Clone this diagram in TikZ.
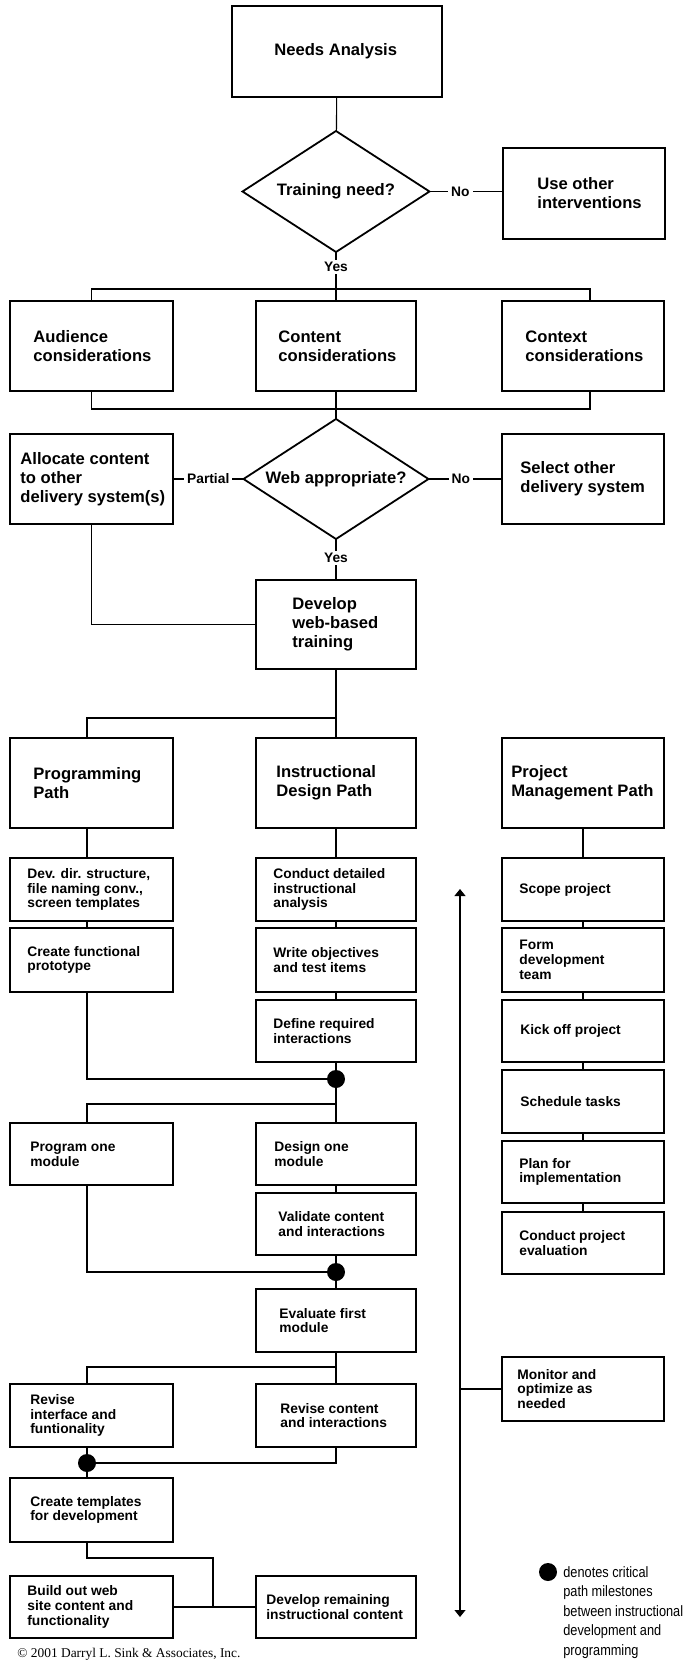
\documentclass[tikz,border=0pt]{standalone}
\usepackage{fontspec}
\setmainfont{Liberation Sans}
\newfontfamily\legfont[FakeStretch=0.85]{Liberation Sans}
\newfontfamily\cpyfont{Liberation Serif}
\usetikzlibrary{shapes.geometric, arrows.meta}
\newcommand\flowbox[8]{%
  \pgfmathsetmacro\fbw{(#4-#2)*0.5}%
  \pgfmathsetmacro\fbh{(#5-#3)*0.5}%
  \pgfmathsetmacro\fbp{(#6-#2)*0.5}%
  \node[box, minimum width=\fbw pt, minimum height=\fbh pt] (#1) at ({(#2+#4)/2},{(#3+#5)/2}) {};%
  \node[#7, anchor=west] (#1-t) at ([xshift=\fbp pt]#1.west) {#8};%
}
\begin{document}
\begin{tikzpicture}[x=0.5pt, y=-0.5pt,
  box/.style={draw, line width=0.9pt, inner sep=0, outer sep=0},
  dia/.style={draw, diamond, line width=0.9pt, inner sep=0, outer sep=0},
  big/.style={font=\fontsize{8.3}{9.5}\selectfont\bfseries, align=left, inner sep=0},
  sml/.style={font=\fontsize{6.9}{7.4}\selectfont\bfseries, align=left, inner sep=0},
  lbl/.style={font=\fontsize{6.9}{8}\selectfont\bfseries, fill=white, inner xsep=1.5pt, inner ysep=1pt},
  conn/.style={line width=0.55pt},
  arrowline/.style={line width=0.55pt, {Triangle[length=3.5pt,width=5.5pt]}-{Triangle[length=3.5pt,width=5.5pt]}},
  dot/.style={circle, fill=black, minimum size=9pt, inner sep=0},
  leg/.style={font=\legfont\fontsize{7.5}{9.75}\selectfont, align=left, inner sep=0},
  cpy/.style={font=\cpyfont\fontsize{6.7}{8}\selectfont, inner sep=0}
]
\path[use as bounding box, fill=white] (0,0) rectangle (682,1662);

% top section
\flowbox{na}{232}{6}{442}{97}{274}{big}{Needs Analysis}
\node[dia, minimum width=93.5pt, minimum height=60.5pt] (d1) at (336,191.5) {};
\node[big] (d1-t) at (d1) {Training need?};
\flowbox{uo}{503}{148}{665}{239}{537}{big}{Use other\\interventions}
\flowbox{aud}{10}{301}{173}{391}{33}{big}{Audience\\considerations}
\flowbox{con}{256}{301}{416}{391}{278}{big}{Content\\considerations}
\flowbox{ctx}{502}{301}{664}{391}{525}{big}{Context\\considerations}
\node[dia, minimum width=92.5pt, minimum height=60pt] (d2) at (336,479) {};
\node[big] (d2-t) at (d2) {Web appropriate?};
\flowbox{al}{10}{434}{173}{524}{20}{big}{Allocate content\\to other\\delivery system(s)}
\flowbox{sel}{502}{434}{664}{524}{520}{big}{Select other\\delivery system}
\flowbox{dev}{256}{580}{416}{669}{292}{big}{Develop\\web-based\\training}
\flowbox{pp}{10}{738}{173}{828}{33}{big}{Programming\\Path}
\flowbox{idp}{256}{738}{416}{828}{276}{big}{Instructional\\Design Path}
\flowbox{pmp}{502}{738}{664}{828}{511}{big}{Project\\Management Path}

% lower section
\flowbox{dd}{10}{858}{173}{921}{27}{sml}{Dev. dir. structure,\\file naming conv.,\\screen templates}
\flowbox{cf}{10}{928}{173}{992}{27}{sml}{Create functional\\prototype}
\flowbox{cd}{256}{858}{416}{921}{273}{sml}{Conduct detailed\\instructional\\analysis}
\flowbox{wo}{256}{928}{416}{992}{273}{sml}{Write objectives\\and test items}
\flowbox{dr}{256}{1000}{416}{1062}{273}{sml}{Define required\\interactions}
\flowbox{sp}{502}{858}{664}{921}{519}{sml}{Scope project}
\flowbox{fd}{502}{928}{664}{992}{519}{sml}{Form\\development\\team}
\flowbox{ko}{502}{1000}{664}{1062}{520}{sml}{Kick off project}
\flowbox{st}{502}{1070}{664}{1133}{520}{sml}{Schedule tasks}
\flowbox{pi}{502}{1141}{664}{1203}{519}{sml}{Plan for\\implementation}
\flowbox{cpe}{502}{1212}{664}{1274}{519}{sml}{Conduct project\\evaluation}
\flowbox{pom}{10}{1123}{173}{1185}{30}{sml}{Program one\\module}
\flowbox{dom}{256}{1123}{416}{1185}{274}{sml}{Design one\\module}
\flowbox{vci}{256}{1193}{416}{1255}{278}{sml}{Validate content\\and interactions}
\flowbox{efm}{256}{1289}{416}{1352}{279}{sml}{Evaluate first\\module}
\flowbox{ri}{10}{1384}{173}{1447}{30}{sml}{Revise\\interface and\\funtionality}
\flowbox{rc}{256}{1384}{416}{1447}{280}{sml}{Revise content\\and interactions}
\flowbox{ct}{10}{1478}{173}{1542}{30}{sml}{Create templates\\for development}
\flowbox{bo}{10}{1576}{173}{1638}{27}{sml}{Build out web\\site content and\\functionality}
\flowbox{drc}{256}{1576}{416}{1638}{266}{sml}{Develop remaining\\instructional content}
\flowbox{mo}{502}{1357}{664}{1421}{517}{sml}{Monitor and\\optimize as\\needed}

% milestones
\node[dot] (m1) at (336,1079) {};
\node[dot] (m2) at (336,1272) {};
\node[dot] (m3) at (87,1463) {};

% junction coordinates
\coordinate (lx) at (87,0);
\coordinate (j1) at (336,289);
\coordinate (r1) at (590,289);
\coordinate (r2) at (590,409);
\coordinate (j3) at (336,718);
\coordinate (j4) at (336,1104);
\coordinate (j5) at (336,1367);
\coordinate (jx) at (213,1558);
\coordinate (atop) at (460,889);
\coordinate (abot) at (460,1617);
\coordinate (amid) at (460,1389);

% connectors
\draw[conn] (na) -- (d1);
\draw[conn] (d1.east) -- node[lbl, pos=0.42] (no1) {No} (d1.east -| uo.west);
\draw[conn] (d1.south) -- node[lbl, pos=0.4] (yes1) {Yes} (j1);
\draw[conn] (aud.north) |- (r1) -- (r1 |- ctx.north);
\draw[conn] (j1) -- (con.north);
\draw[conn] (aud.south) |- (r2) -- (r2 |- ctx.south);
\draw[conn] (con.south) -- (d2.north);
\draw[conn] (d2.west) -- node[lbl] (part) {Partial} (al.east);
\draw[conn] (d2.east) -- node[lbl, pos=0.44] (no2) {No} (sel.west);
\draw[conn] (d2.south) -- node[lbl, pos=0.46] (yes2) {Yes} (dev.north);
\draw[conn] (al.south) |- (dev.west);
\draw[conn] (dev.south) -- (idp.north);
\draw[conn] (j3) -| (lx |- pp.north);
\draw[conn] (lx |- pp.south) -- (lx |- dd.north);
\draw[conn] (lx |- dd.south) -- (lx |- cf.north);
\draw[conn] (lx |- cf.south) |- (m1);
\draw[conn] (idp) -- (cd);
\draw[conn] (cd) -- (wo);
\draw[conn] (wo) -- (dr);
\draw[conn] (dr) -- (m1);
\draw[conn] (m1) -- (dom);
\draw[conn] (j4) -| (lx |- pom.north);
\draw[conn] (dom) -- (vci);
\draw[conn] (vci) -- (m2);
\draw[conn] (lx |- pom.south) |- (m2);
\draw[conn] (m2) -- (efm);
\draw[conn] (efm) -- (rc);
\draw[conn] (j5) -| (lx |- ri.north);
\draw[conn] (lx |- ri.south) -- (m3);
\draw[conn] (m3) -- (lx |- ct.north);
\draw[conn] (rc.south) |- (m3);
\draw[conn] (lx |- ct.south) |- (jx) -- (jx |- bo.east);
\draw[conn] (bo.east) -- (drc.west);
\draw[conn] (pmp) -- (sp);
\draw[conn] (sp) -- (fd);
\draw[conn] (fd) -- (ko);
\draw[conn] (ko) -- (st);
\draw[conn] (st) -- (pi);
\draw[conn] (pi) -- (cpe);
\draw[arrowline] (atop) -- (abot);
\draw[conn] (amid) -- (amid -| mo.west);

% legend
\node[dot] (lgd) at (548,1572) {};
\node[leg, anchor=north west] (lgt) at (563,1566) {denotes critical\\path milestones\\between instructional\\development and\\programming};

% copyright
\node[cpy, anchor=base west] (cpy) at (17,1657) {© 2001 Darryl L. Sink \& Associates, Inc.};
\end{tikzpicture}
\end{document}
